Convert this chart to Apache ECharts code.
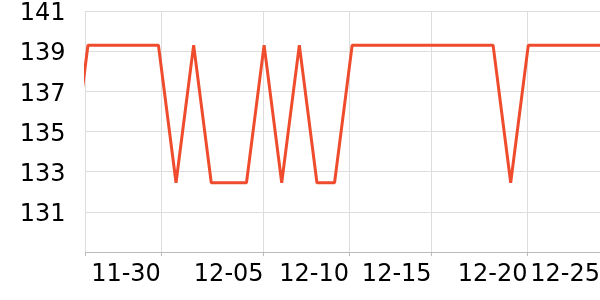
<!DOCTYPE html>
<html>
<head>
<meta charset="utf-8">
<script src="https://cdn.jsdelivr.net/npm/echarts@6/dist/echarts.min.js"></script>
<style>html,body{margin:0;padding:0;background:#fff}#c{width:600px;height:300px}</style>
</head>
<body>
<div id="c"></div>
<script>
// point index (one step per observation)
const steps = [-1,0,1,2,3,4,5,6,7,8,9,10,11,12,13,14,15,16,17,18,19,20,21,22,23,24,25,26,27,28,29,30];
const values = [132.45,139.3,139.3,139.3,139.3,139.3,132.45,139.3,132.45,132.45,132.45,139.3,132.45,139.3,132.45,132.45,139.3,139.3,139.3,139.3,139.3,139.3,139.3,139.3,139.3,132.45,139.3,139.3,139.3,139.3,139.3,139.3];
// x-axis tick positions (in step units) and their labels
const tickPos = [4.14, 9.97, 14.82, 19.51, 24.95, 29.07];
const tickLabels = ['11-30','12-05','12-10','12-15','12-20','12-25'];
const xMin = -0.14, xMax = 29.07;
const yTicks = [129,131,133,135,137,139,141];

const chart = echarts.init(document.getElementById('c'), null, {renderer:'canvas'});
const font = 'DejaVu Sans';
chart.setOption({
  animation: false,
  grid: {left: 85.5, right: 0, top: 11, bottom: 48, containLabel: false, outerBoundsMode: 'none'},
  xAxis: {
    type: 'value', min: xMin, max: xMax,
    axisLine: {show: true, onZero: false, lineStyle: {color: '#bbbbbb', width: 1}},
    axisTick: {show: true, length: 4, lineStyle: {color: '#bbbbbb'}, customValues: [xMin].concat(tickPos.slice(0, -1))},
    splitLine: {show: true, lineStyle: {color: '#dddddd', width: 1}},
    axisLabel: {
      customValues: tickPos,
      align: 'right', margin: 11, hideOverlap: false,
      fontFamily: font, fontSize: 24, color: '#000',
      formatter: v => { const i = tickPos.findIndex(t => Math.abs(t - v) < 1e-6); return i >= 0 ? tickLabels[i] : ''; }
    }
  },
  yAxis: {
    type: 'value', min: yTicks[0], max: yTicks[yTicks.length-1], interval: 2,
    axisLine: {show: false}, axisTick: {show: false},
    splitLine: {show: true, lineStyle: {color: '#dddddd', width: 1}},
    axisLabel: {showMinLabel: false, margin: 20, verticalAlign: 'top', lineHeight: 24, padding: [-9, 0, 0, 0], fontFamily: font, fontSize: 24, color: '#000'}
  },
  series: [{
    type: 'line',
    data: steps.map((s, i) => [s, values[i]]),
    showSymbol: false,
    clip: true,
    lineStyle: {color: '#ef4b2d', width: 3},
    itemStyle: {color: '#ef4b2d'}
  }]
});
</script>
</body>
</html>
